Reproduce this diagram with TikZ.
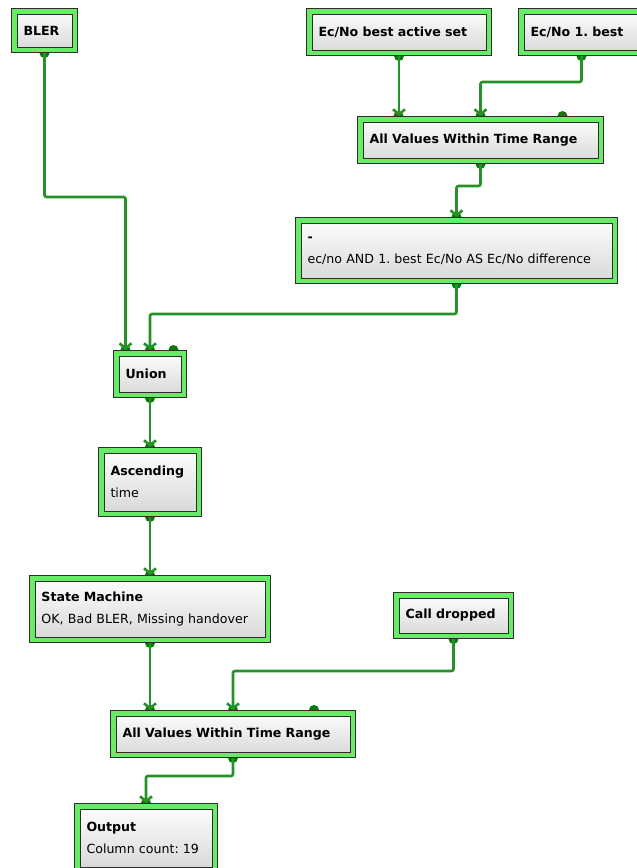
\documentclass[tikz,border=0pt]{standalone}
\usepackage{fontspec}
\setmainfont{DejaVu Sans}
\frenchspacing
\usepackage{tikz}
\usetikzlibrary{arrows.meta,backgrounds}
\definecolor{framegreen}{RGB}{104,236,104}
\definecolor{wiregreen}{RGB}{38,146,38}
\definecolor{portgreen}{RGB}{14,118,14}
\definecolor{boxline}{RGB}{45,45,45}
\tikzset{
  block/.style={
    rectangle,
    anchor=north west,
    draw=boxline,
    fill=framegreen,
    line width=1pt,
    inner xsep=12pt,
    inner ysep=0pt,
    align=left,
    font=\fontsize{12.6}{22}\selectfont,
    path picture={
      \shade[top color=white, bottom color=black!16, draw=boxline, line width=1pt]
        ([shift={(5.5pt,-5.5pt)}]path picture bounding box.north west) rectangle
        ([shift={(-5.5pt,5.5pt)}]path picture bounding box.south east);
      }
    },
  arrow/.style={wiregreen, line width=2.6pt, rounded corners=2pt,
    -{Straight Barb[length=5pt,width=12pt]}},
  port/.style={fill=portgreen},
}

\begin{document}
\begin{tikzpicture}[x=1pt, y=-1pt]
\useasboundingbox (0,0) rectangle (637,868);
\clip (0,0) rectangle (637,868);

\node (bler) [block, minimum width=66pt, minimum height=44pt, text width=42pt] at (11,8) {\textbf{BLER}};
\node (ecas) [block, minimum width=185pt, minimum height=47pt, text width=161pt] at (306,8) {\textbf{Ec/No best active set}};
\node (ec1) [block, minimum width=126pt, minimum height=47pt, text width=102pt] at (518,8) {\textbf{Ec/No 1. best}};
\node (avw1) [block, minimum width=246pt, minimum height=47pt, text width=222pt] at (357,116) {\textbf{All Values Within Time Range}};
\node (diff) [block, minimum width=322pt, minimum height=66pt, text width=298pt] at (295,217) {\textbf{-}\\ec/no AND 1. best Ec/No AS Ec/No difference};
\node (union) [block, minimum width=73pt, minimum height=47pt, text width=49pt] at (113,350) {\textbf{Union}};
\node (asc) [block, minimum width=103pt, minimum height=69pt, text width=79pt] at (98,447) {\textbf{Ascending}\\time};
\node (sm) [block, minimum width=241pt, minimum height=67pt, text width=217pt] at (29,575) {\textbf{State Machine}\\OK, Bad BLER, Missing handover};
\node (call) [block, minimum width=120pt, minimum height=46pt, text width=96pt] at (393,592) {\textbf{Call dropped}};
\node (avw2) [block, minimum width=245pt, minimum height=47pt, text width=221pt] at (110,710) {\textbf{All Values Within Time Range}};
\node (out) [block, minimum width=143pt, minimum height=69pt, text width=119pt] at (74,803) {\textbf{Output}\\Column count: 19};

\begin{scope}[on background layer]
% output ports
\foreach \n in {bler,ecas,ec1,avw1,diff,union,asc,sm,call,avw2}
  \fill[port] (\n.south) circle (5pt);
% input ports
\foreach \n/\s in {avw1/-82,avw1/0,avw1/82,diff/0,union/-24.5,union/0,union/23.5,asc/0,sm/0,avw2/-83,avw2/0,avw2/81,out/0}
  \fill[port] ([xshift=\s pt]\n.north) circle (5pt);

\draw [arrow] (bler.south) -- ++(0,144) -| ([xshift=-24.5pt]union.north);
\draw [arrow] (ecas.south) -- (ecas.south |- avw1.north);
\draw [arrow] (ec1.south) -- ++(0,26) -| (avw1.north);
\draw [arrow] (avw1.south) -- ++(0,22) -| (diff.north);
\draw [arrow] (diff.south) -- ++(0,30) -| (union.north);
\draw [arrow] (union.south) -- (asc.north);
\draw [arrow] (asc.south) -- (sm.north);
\draw [arrow] (sm.south) -- (sm.south |- avw2.north);
\draw [arrow] (call.south) -- ++(0,32) -| (avw2.north);
\draw [arrow] (avw2.south) -- ++(0,18) -| (out.north);
\end{scope}
\end{tikzpicture}
\end{document}
